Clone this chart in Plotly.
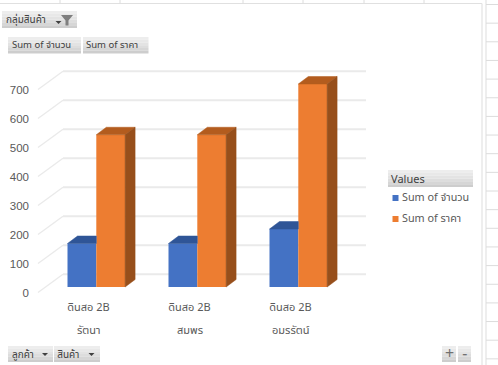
import plotly.graph_objects as go

# Pivot chart data
products = ["ดินสอ 2B", "ดินสอ 2B", "ดินสอ 2B"]
customers = ["รัตนา", "สมพร", "อมรรัตน์"]
series_names = ["Sum of จำนวน", "Sum of ราคา"]
qty_values = [150, 150, 200]
price_values = [525, 525, 700]
value_ticks = [0, 100, 200, 300, 400, 500, 600, 700]

W, H = 498, 365
FONT = "Noto Sans Thai, Noto Sans, Tahoma, sans-serif"
BLUE, ORANGE = "#4472C4", "#ED7D31"
BLUE_TOP, ORANGE_TOP, ORANGE_SIDE = "#2F5597", "#B35C1E", "#974F1B"
GRID = "#EAEAEA"

# Scales: one category is 101 px wide, 100 units are 29 px tall
CAT_PX = 101.0
UNIT_PX = 0.29
CAT0_PX = 88.5
BASE_PX = 287.0
LABEL_BASE_PX = 292.5


def xr(px):
    return (px - CAT0_PX) / CAT_PX


BAR_OFF_1 = xr(67.5)
BAR_W = 28.8 / CAT_PX
BAR_OFF_2 = BAR_OFF_1 + BAR_W
DEPTH_X = 10 / CAT_PX
DEPTH_Y = 7.5 / UNIT_PX
WALL_X0, WALL_X1 = xr(38), xr(63)
WALL_X2 = xr(366)
WALL_RISE = 18.2 / UNIT_PX

fig = go.Figure()

# Floor/back wall lines, drawn on the base axis so the bars sit above them
side_x, side_y, back_x, back_y = [], [], [], []
for v in value_ticks:
    side_x += [WALL_X0, WALL_X1, None]
    side_y += [v, v + WALL_RISE, None]
    back_x += [WALL_X1, WALL_X2, None]
    back_y += [v + WALL_RISE, v + WALL_RISE, None]
fig.add_trace(go.Scatter(x=side_x, y=side_y, mode="lines", line=dict(color=GRID, width=1.4),
                         hoverinfo="skip", showlegend=False))
fig.add_trace(go.Scatter(x=back_x, y=back_y, mode="lines", line=dict(color=GRID, width=2),
                         hoverinfo="skip", showlegend=False))

cats = list(range(len(customers)))
fig.add_trace(go.Bar(x=cats, y=qty_values, name=series_names[0], yaxis="y2", width=BAR_W,
                     offset=BAR_OFF_1, marker=dict(color=BLUE, line=dict(width=0)),
                     showlegend=False))
fig.add_trace(go.Bar(x=cats, y=price_values, name=series_names[1], yaxis="y2", width=BAR_W,
                     offset=BAR_OFF_2, marker=dict(color=ORANGE, line=dict(width=0)),
                     showlegend=False))


def polygon(xs, ys, color):
    fig.add_trace(go.Scatter(x=xs, y=ys, yaxis="y2", mode="lines", fill="toself", fillcolor=color,
                             line=dict(color=color, width=0.5), hoverinfo="skip", showlegend=False))


# Extruded faces derived from the same series values
for i, (q, p) in enumerate(zip(qty_values, price_values)):
    b0 = i + BAR_OFF_1
    b1 = i + BAR_OFF_2
    b2 = b1 + BAR_W
    polygon([b0, b1, b1, b0 + DEPTH_X, b0], [q, q, q + DEPTH_Y, q + DEPTH_Y, q], BLUE_TOP)
    polygon([b1, b2, b2 + DEPTH_X, b1 + DEPTH_X, b1], [p, p, p + DEPTH_Y, p + DEPTH_Y, p], ORANGE_TOP)
    polygon([b2, b2 + DEPTH_X, b2 + DEPTH_X, b2, b2], [0, DEPTH_Y, p + DEPTH_Y, p, 0], ORANGE_SIDE)


def px(x):
    return x / W


def py(y):
    return 1 - y / H


shapes = []


def rect(x0, y0, x1, y1, color):
    shapes.append(dict(type="rect", xref="paper", yref="paper", x0=px(x0), x1=px(x1),
                       y0=py(y0), y1=py(y1), fillcolor=color, line=dict(width=0), layer="below"))


def line(x0, y0, x1, y1, color="#DCDCDC", width=1):
    shapes.append(dict(type="line", xref="paper", yref="paper", x0=px(x0), x1=px(x1),
                       y0=py(y0), y1=py(y1), line=dict(color=color, width=width), layer="below"))


def path(points, color):
    d = "M" + "L".join(f"{px(a):.5f},{py(b):.5f}" for a, b in points) + "Z"
    shapes.append(dict(type="path", xref="paper", yref="paper", path=d, fillcolor=color,
                       line=dict(width=0), layer="above"))


def button(x0, y0, x1, y1):
    # Vertical fade from light grey at the top to mid grey at the bottom
    bands = ["#EDEDED", "#E8E8E8", "#E3E3E3", "#DDDDDD", "#D6D6D6", "#CDCDCD"]
    step = (y1 - y0) / len(bands)
    for k, c in enumerate(bands):
        rect(x0, y0 + k * step, x1, y0 + (k + 1) * step, c)


def caret(cx, cy, color="#404040"):
    path([(cx - 3, cy - 1.5), (cx + 3, cy - 1.5), (cx, cy + 1.5)], color)


# Surrounding worksheet cell lines
line(0, 3.5, 482, 3.5, "#E0E0E0", 1.2)
for gx in (60, 120, 243, 303, 364, 424):
    line(gx, 0, gx, 3.5)
line(482, 3.5, 482, H, "#E3E3E3", 1.2)
line(486, 0, 486, H, "#E3E3E3", 1.2)
for k in range(20):
    gy = 4.5 + 18.65 * k
    line(486, gy, W, gy)

# Field buttons
button(2, 11, 77, 28)
button(8, 37, 81, 53.5)
button(83, 37, 148.5, 53.5)
button(8, 346, 53, 362)
button(54, 346, 100, 362)
button(388, 170, 473, 187)
button(442, 346, 456, 362)
button(458, 346, 471, 362)

# Filter funnel and drop-down carets
path([(61, 15), (73, 15), (68.5, 20.5), (68.5, 25.5), (65.5, 25.5), (65.5, 20.5)], "#7F7F7F")
caret(58.5, 22.5)
caret(45, 354.5)
caret(91.5, 354.5)

# Legend swatches
rect(392.5, 195, 398.5, 201, BLUE)
rect(392.5, 216, 398.5, 222, ORANGE)


def label(x, y, text, size=10, color="#404040", anchor="left"):
    return dict(x=px(x), y=py(y), xref="paper", yref="paper", text=text, showarrow=False,
                xanchor=anchor, yanchor="middle", xshift=-1,
                font=dict(family=FONT, size=size, color=color))


annotations = [
    label(5, 20, "กลุ่มสินค้า"),
    label(11, 45, series_names[0], 9.5),
    label(85, 45, series_names[1], 9.5),
    label(10.5, 354.5, "ลูกค้า"),
    label(56, 354.5, "สินค้า"),
    label(390, 179, "Values", 11),
    label(400.5, 198, series_names[0], 10.8, "#595959"),
    label(400.5, 219, series_names[1], 10.8, "#595959"),
    label(450, 353.5, "+", 16, "#707070", "center"),
    label(465.5, 353.5, "−", 16, "#707070", "center"),
]
# Customer level of the category axis
for i, name in enumerate(customers):
    annotations.append(dict(x=i, y=py(330), xref="x", yref="paper", text=name, showarrow=False,
                            xanchor="center", yanchor="middle",
                            font=dict(family=FONT, size=11, color="#595959")))

fig.update_layout(
    width=W, height=H, margin=dict(l=0, r=0, t=0, b=0, pad=0),
    paper_bgcolor="white", plot_bgcolor="rgba(0,0,0,0)", showlegend=False,
    barmode="overlay", shapes=shapes, annotations=annotations,
    font=dict(family=FONT),
    xaxis=dict(range=[xr(0), xr(W)], domain=[0, 1], anchor="free", position=py(298.5),
               tickmode="array", tickvals=cats, ticktext=products, ticks="", showline=False,
               showgrid=False, zeroline=False, tickfont=dict(family=FONT, size=11, color="#595959")),
    yaxis=dict(range=[(LABEL_BASE_PX - H) / UNIT_PX, LABEL_BASE_PX / UNIT_PX], domain=[0, 1],
               anchor="free", position=px(29), tickmode="array", tickvals=value_ticks,
               ticks="", showline=False, showgrid=False, zeroline=False,
               tickfont=dict(family="Liberation Sans, Noto Sans, sans-serif", size=11.5, color="#595959")),
    yaxis2=dict(range=[(BASE_PX - H) / UNIT_PX, BASE_PX / UNIT_PX], domain=[0, 1], overlaying="y",
                visible=False),
)

fig.write_html("out.html", config=dict(displayModeBar=False))
